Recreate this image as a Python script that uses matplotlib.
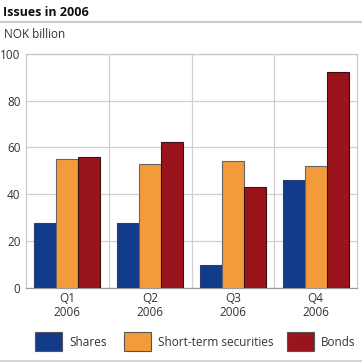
import matplotlib
matplotlib.use("Agg")
import matplotlib.pyplot as plt
from matplotlib.patches import Rectangle
from matplotlib.lines import Line2D
import numpy as np

plt.rcParams["font.family"] = ["Open Sans", "DejaVu Sans"]

quarters = ["Q1\n2006", "Q2\n2006", "Q3\n2006", "Q4\n2006"]
series = ["Shares", "Short-term securities", "Bonds"]
shares = [27.6, 27.8, 9.5, 46.0]
short_term = [55.2, 52.9, 54.3, 52.1]
bonds = [56.1, 62.3, 43.0, 92.2]
colors = ["#123b8c", "#f39a3b", "#9a141c"]
edges = ["#2a3f70", "#666666", "#3a1010"]

fig = plt.figure(figsize=(3.62, 3.63), dpi=100)
ax = fig.add_axes([26 / 362, 1 - 287.7 / 363, 331 / 362, 233.7 / 363])

x = np.arange(len(quarters))
w = 0.266
for i, vals in enumerate([shares, short_term, bonds]):
    ax.bar(x + (i - 1) * w, vals, width=w, color=colors[i],
           edgecolor=edges[i], linewidth=0.8, zorder=3)

ax.set_xlim(-0.5, len(quarters) - 0.5)
ax.set_ylim(0, 100)
ax.set_yticks(range(0, 101, 20))
ax.set_xticks(x)
ax.set_xticklabels(quarters, fontsize=8.5, color="#333333", linespacing=1.1)
ax.tick_params(axis="y", labelsize=8.5, labelcolor="#333333", length=0, pad=4)
ax.tick_params(axis="x", length=0, pad=3)
for b in np.arange(0.5, len(quarters) - 0.5):
    ax.axvline(b, color="#d0d0d0", linewidth=0.9, zorder=1)
ax.grid(axis="y", color="#d0d0d0", linewidth=0.9, zorder=1)
for s in ax.spines.values():
    s.set_color("#c8c8c8")
    s.set_linewidth(0.9)
ax.spines["bottom"].set_color("#999999")

fig.text(3 / 362, 1 - 12 / 363, "Issues in 2006", fontsize=9, fontweight="bold",
         va="center", ha="left", color="#111111")
fig.add_artist(Line2D([0, 1], [1 - 21.7 / 363] * 2, color="#cccccc", linewidth=1.5))
fig.text(4 / 362, 1 - 34 / 363, "NOK billion", fontsize=8.5, va="center",
         ha="left", color="#333333")
fig.add_artist(Line2D([0, 1], [1 - 361 / 363] * 2, color="#cccccc", linewidth=1.2))

# legend drawn by hand to match spacing
box_x = [35, 124, 287]
for i, name in enumerate(series):
    fig.add_artist(Rectangle((box_x[i] / 362, 1 - 351 / 363), 27 / 362, 19 / 363,
                             facecolor=colors[i], edgecolor="#555555", linewidth=0.8))
    fig.text((box_x[i] + 34) / 362, 1 - 342 / 363, name, fontsize=8.5,
             va="center", ha="left", color="#333333")

fig.savefig("out.png", dpi=100)
